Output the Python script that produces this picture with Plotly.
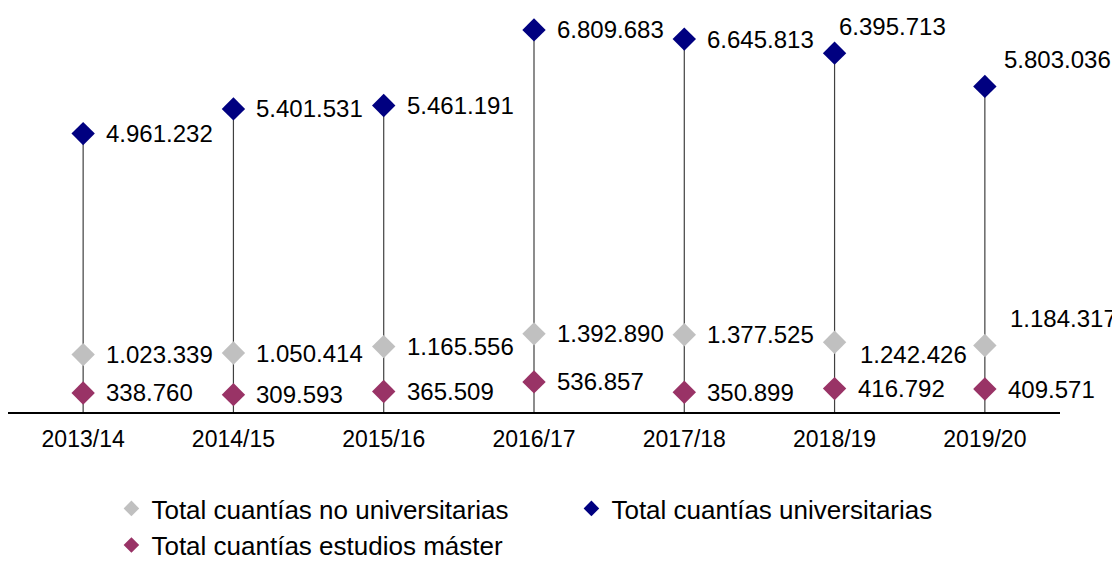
import plotly.graph_objects as go

categories = ["2013/14", "2014/15", "2015/16", "2016/17", "2017/18", "2018/19", "2019/20"]
no_universitarias = [1023339, 1050414, 1165556, 1392890, 1377525, 1242426, 1184317]
universitarias = [4961232, 5401531, 5461191, 6809683, 6645813, 6395713, 5803036]
master = [338760, 309593, 365509, 536857, 350899, 416792, 409571]

names = ["Total cuantías no universitarias", "Total cuantías universitarias",
         "Total cuantías estudios máster"]
colors = ["#C0C0C0", "#000080", "#993366"]
legend_ids = ["legend", "legend", "legend2"]

# label offsets (px) per series: (xshift, yshift)
off_no_univ = [(21, 0), (21, 0), (21, 0), (21, 0), (21, 0), (23, -12), (23, 27)]
off_univ = [(21, 0), (21, 0), (21, 0), (21, 0), (21, 0), (2, 27), (17, 27)]
off_master = [(21, 0)] * 7

FONT = "Liberation Sans, Arial, sans-serif"


def fmt(v):
    return f"{v:,}".replace(",", ".")


fig = go.Figure()

# drop lines from axis to top value
lx, ly = [], []
for c, v in zip(categories, universitarias):
    lx += [c, c, None]
    ly += [0, v, None]
fig.add_trace(go.Scatter(x=lx, y=ly, mode="lines", line=dict(color="#404040", width=1.2),
                         showlegend=False, hoverinfo="skip"))

for name, vals, col, lg in zip(names, [no_universitarias, universitarias, master], colors, legend_ids):
    fig.add_trace(go.Scatter(x=categories, y=vals, mode="markers", name=name, legend=lg,
                             marker=dict(symbol="diamond", size=18, color=col)))

annotations = []
for vals, offs in [(no_universitarias, off_no_univ), (universitarias, off_univ), (master, off_master)]:
    for c, v, (dx, dy) in zip(categories, vals, offs):
        annotations.append(dict(x=c, y=v, xref="x", yref="y", text=fmt(v), showarrow=False,
                                xanchor="left", yanchor="middle", xshift=dx, yshift=dy,
                                font=dict(family=FONT, size=24, color="#000000")))

legend_common = dict(orientation="h", xanchor="left", yanchor="top",
                     xref="container", yref="container",
                     font=dict(family=FONT, size=26, color="#000000"),
                     itemsizing="constant", bgcolor="rgba(0,0,0,0)")

fig.update_layout(
    width=1112, height=554,
    margin=dict(l=0, r=60, t=0, b=150),
    paper_bgcolor="white", plot_bgcolor="white",
    font=dict(family=FONT, size=23, color="#000000"),
    annotations=annotations,
    showlegend=True,
    legend=dict(x=0.093, y=0.139, entrywidth=415, entrywidthmode="pixels", **legend_common),
    legend2=dict(x=0.093, y=0.073, **legend_common),
    xaxis=dict(type="category", categoryorder="array", categoryarray=categories,
               range=[-0.5, 6.5], showline=True, linecolor="#000000", linewidth=1.5,
               showgrid=False, zeroline=False, ticks="", ticklabelstandoff=6,
               tickfont=dict(family=FONT, size=23, color="#000000"), fixedrange=True),
    yaxis=dict(range=[0, 7.2e6], showgrid=False, zeroline=False, showline=False,
               showticklabels=False, ticks="", fixedrange=True),
)

fig.write_html("out.html")
